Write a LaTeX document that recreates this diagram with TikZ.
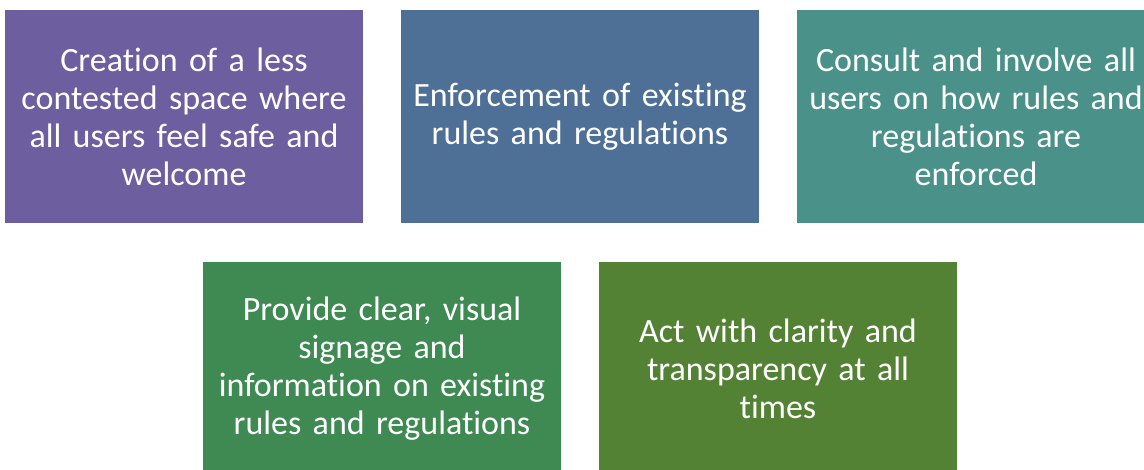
\documentclass[tikz,border=0pt]{standalone}
\usepackage{fontspec}
\setmainfont{Carlito}[Ligatures=NoCommon, WordSpace=0.85]
\definecolor{boxpurple}{HTML}{6D5EA0}
\definecolor{boxblue}{HTML}{4E6F96}
\definecolor{boxteal}{HTML}{4A9189}
\definecolor{boxgreen}{HTML}{3E8A52}
\definecolor{boxolive}{HTML}{548235}
\tikzset{
  goalbox/.style={fill=#1, text=white, inner sep=0pt, text width=358pt,
    minimum height=213pt, align=center, font=\fontsize{34}{38}\selectfont}
}

\begin{document}
\begin{tikzpicture}[x=1pt,y=-1pt]
\path[use as bounding box, clip] (0,0) rectangle (1144,469);
\node[goalbox=boxpurple] (space) at (184,116.5) {Creation of a less\\contested space where\\all users feel safe and\\welcome};
\node[goalbox=boxblue] (enforce) at (580,116.5) {Enforcement of existing\\rules and regulations};
\node[goalbox=boxteal] (consult) at (976,116.5) {Consult and involve all\\users on how rules and\\regulations are\\enforced};
\node[goalbox=boxgreen] (signage) at (382,368.5) {Provide clear, visual\\signage and\\information on existing\\rules and regulations};
\node[goalbox=boxolive] (clarity) at (778,368.5) {Act with clarity and\\transparency at all\\times};
\end{tikzpicture}
\end{document}
